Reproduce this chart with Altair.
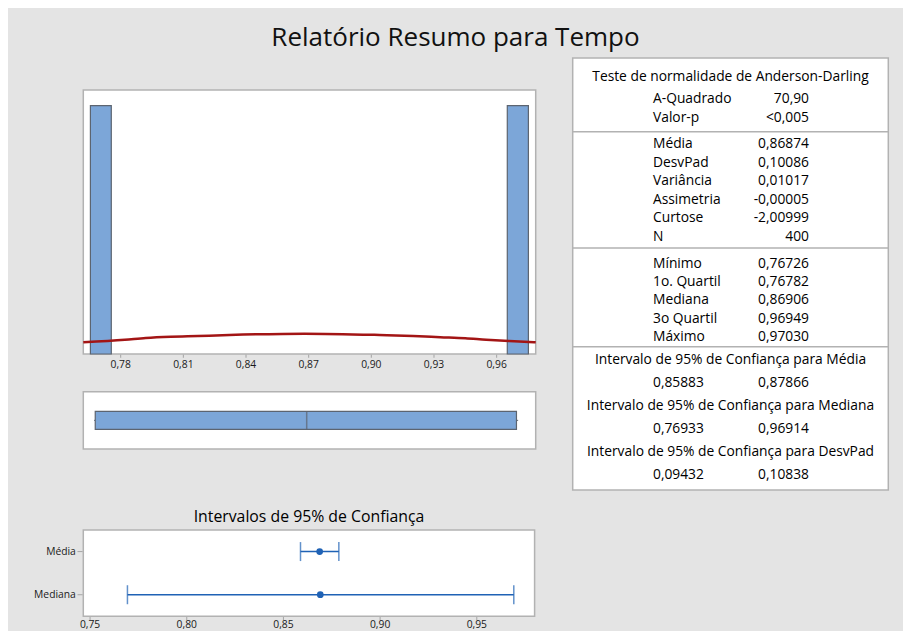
import json
import altair as alt
import pandas as pd

FONT = "Open Sans"

# ---------------- data ----------------
main_title = "Relatório Resumo para Tempo"

hist_bin_start = [0.7655, 0.9651]
hist_bin_end = [0.7755, 0.9752]
hist_counts = [200, 200]

curve_x = [0.7621, 0.782, 0.792, 0.804, 0.817, 0.832, 0.868, 0.904, 0.920, 0.933, 0.945, 0.955, 0.966, 0.9787]
curve_y = [9.4, 11.5, 12.9, 13.9, 14.5, 15.3, 16.4, 15.3, 14.5, 13.5, 12.6, 11.5, 10.5, 9.4]

hist_ticks = [0.78, 0.81, 0.84, 0.87, 0.90, 0.93, 0.96]

box_group = ["Tempo"]
box_min = [0.76726]
box_q1 = [0.76782]
box_median = [0.86906]
box_q3 = [0.96949]
box_max = [0.97030]

ci_names = ["Média", "Mediana"]
ci_est = [0.86874, 0.86906]
ci_low = [0.85883, 0.76933]
ci_high = [0.87866, 0.96914]
ci_ticks = [0.75, 0.80, 0.85, 0.90, 0.95]
ci_title = "Intervalos de 95% de Confiança"

ad_title = "Teste de normalidade de Anderson-Darling"
ad_labels = ["A-Quadrado", "Valor-p"]
ad_values = ["70,90", "<0,005"]
desc_labels = ["Média", "DesvPad", "Variância", "Assimetria", "Curtose", "N"]
desc_values = ["0,86874", "0,10086", "0,01017", "-0,00005", "-2,00999", "400"]
quart_labels = ["Mínimo", "1o. Quartil", "Mediana", "3o Quartil", "Máximo"]
quart_values = ["0,76726", "0,76782", "0,86906", "0,96949", "0,97030"]
int_titles = ["Intervalo de 95% de Confiança para Média",
              "Intervalo de 95% de Confiança  para Mediana",
              "Intervalo de 95% de Confiança  para DesvPad"]
int_low = ["0,85883", "0,76933", "0,09432"]
int_high = ["0,87866", "0,96914", "0,10838"]

# ---------------- layout ----------------
W, H = 895, 573
PAD_TOP = 50
HIST_DOM = [0.7621, 0.9787]
HIST_XR = [75.3, 527.7]
HIST_YMAX = 212.6
HIST_YR = [296, 32]
BOX_YR = [333.7, 391]
CI_DOM = [0.7465, 0.9799]
CI_XR = [75.3, 526.6]
CI_YDOM = [0.5, 2.5]
CI_YR = [472, 558.3]
TAB_XR = [564.7, 880.3]
TAB_H = 432

FRAME = "#b2b2b2"
BAR_FILL = "#7ca6d8"
BAR_STROKE = "#5c6470"
CURVE = "#a31515"
CI_COL = "#1f62b5"
TXT = "#000000"
AX_TXT = "#1a1a1a"
TICK = "#8a8a8a"
AX_FS = 10.3


def comma(v):
    return f"{v:.2f}".replace(".", ",")


# ---------------- histogram ----------------
hx = alt.Scale(domain=HIST_DOM, range=HIST_XR, nice=False, zero=False)
hy = alt.Scale(domain=[0, HIST_YMAX], range=HIST_YR, nice=False, zero=False)

hframe_df = pd.DataFrame({"x0": [HIST_DOM[0]], "x1": [HIST_DOM[1]], "y0": [0.0], "y1": [HIST_YMAX]})
hist_frame = alt.Chart(hframe_df).mark_rect(fill="white", stroke=FRAME, strokeWidth=1.5).encode(
    x=alt.X("x0:Q", scale=hx, axis=None), x2="x1",
    y=alt.Y("y0:Q", scale=hy, axis=None), y2="y1",
)

bars_df = pd.DataFrame({"b0": hist_bin_start, "b1": hist_bin_end, "c": hist_counts,
                        "z": [0] * len(hist_counts)})
hist_bars = alt.Chart(bars_df).mark_rect(fill=BAR_FILL, stroke=BAR_STROKE, strokeWidth=1.2).encode(
    x=alt.X("b0:Q", scale=hx, axis=None), x2="b1",
    y=alt.Y("z:Q", scale=hy, axis=None), y2="c",
)

curve_df = pd.DataFrame({"cx": curve_x, "cy": curve_y})
hist_curve = alt.Chart(curve_df).mark_line(color=CURVE, strokeWidth=2.5, interpolate="monotone").encode(
    x=alt.X("cx:Q", scale=hx, axis=None),
    y=alt.Y("cy:Q", scale=hy, axis=None),
)

htick_df = pd.DataFrame({"v": hist_ticks, "lab": [comma(v) for v in hist_ticks],
                         "z": [0.0] * len(hist_ticks)})
hist_tickmarks = alt.Chart(htick_df).mark_tick(orient="vertical", size=3, thickness=1, color=TICK,
                                               yOffset=2.2).encode(
    x=alt.X("v:Q", scale=hx, axis=None), y=alt.Y("z:Q", scale=hy, axis=None))
hist_ticklabels = alt.Chart(htick_df).mark_text(font=FONT, fontSize=AX_FS, color=AX_TXT, align="center",
                                                baseline="alphabetic", dy=14.3).encode(
    x=alt.X("v:Q", scale=hx, axis=None), y=alt.Y("z:Q", scale=hy, axis=None), text="lab:N")
hist_layer = alt.layer(hist_frame, hist_bars, hist_curve, hist_tickmarks, hist_ticklabels)

# ---------------- boxplot ----------------
by = alt.Scale(type="point", domain=box_group, range=BOX_YR, padding=0.5)
box_df = pd.DataFrame({"g": box_group, "mn": box_min, "q1": box_q1, "md": box_median,
                       "q3": box_q3, "mx": box_max,
                       "f0": [HIST_DOM[0]], "f1": [HIST_DOM[1]]})
box_frame = alt.Chart(box_df).mark_bar(size=BOX_YR[1] - BOX_YR[0], fill="white", stroke=FRAME,
                                       strokeWidth=1.5).encode(
    x=alt.X("f0:Q", scale=hx, axis=None), x2="f1", y=alt.Y("g:N", scale=by, axis=None))
box_w1 = alt.Chart(box_df).mark_rule(color=BAR_STROKE, strokeWidth=1).encode(
    x=alt.X("mn:Q", scale=hx, axis=None), x2="q1", y=alt.Y("g:N", scale=by, axis=None))
box_w2 = alt.Chart(box_df).mark_rule(color=BAR_STROKE, strokeWidth=1).encode(
    x=alt.X("q3:Q", scale=hx, axis=None), x2="mx", y=alt.Y("g:N", scale=by, axis=None))
box_box = alt.Chart(box_df).mark_bar(size=18, fill=BAR_FILL, stroke=BAR_STROKE, strokeWidth=1.2).encode(
    x=alt.X("q1:Q", scale=hx, axis=None), x2="q3", y=alt.Y("g:N", scale=by, axis=None))
box_med = alt.Chart(box_df).mark_tick(size=18, thickness=1.5, color=BAR_STROKE).encode(
    x=alt.X("md:Q", scale=hx, axis=None), y=alt.Y("g:N", scale=by, axis=None))
box_layer = alt.layer(box_frame, box_w1, box_w2, box_box, box_med)

# ---------------- confidence intervals ----------------
cx = alt.Scale(domain=CI_DOM, range=CI_XR, nice=False, zero=False)
cy = alt.Scale(domain=CI_YDOM, range=CI_YR, nice=False, zero=False)
ci_df = pd.DataFrame({"name": ci_names, "row": list(range(1, len(ci_names) + 1)),
                      "est": ci_est, "lo": ci_low, "hi": ci_high,
                      "xl": [CI_DOM[0]] * len(ci_names)})

cframe_df = pd.DataFrame({"x0": [CI_DOM[0]], "x1": [CI_DOM[1]], "y0": [CI_YDOM[0]], "y1": [CI_YDOM[1]]})
ci_frame = alt.Chart(cframe_df).mark_rect(fill="white", stroke=FRAME, strokeWidth=1.5).encode(
    x=alt.X("x0:Q", scale=cx, axis=None), x2="x1",
    y=alt.Y("y0:Q", scale=cy, axis=None), y2="y1",
)
ci_rule = alt.Chart(ci_df).mark_rule(color=CI_COL, strokeWidth=1.5).encode(
    x=alt.X("lo:Q", scale=cx, axis=None), x2="hi", y=alt.Y("row:Q", scale=cy, axis=None))
ci_cap_lo = alt.Chart(ci_df).mark_tick(orient="vertical", size=19, thickness=1.5, color=CI_COL).encode(
    x=alt.X("lo:Q", scale=cx, axis=None), y=alt.Y("row:Q", scale=cy, axis=None))
ci_cap_hi = alt.Chart(ci_df).mark_tick(orient="vertical", size=19, thickness=1.5, color=CI_COL).encode(
    x=alt.X("hi:Q", scale=cx, axis=None), y=alt.Y("row:Q", scale=cy, axis=None))
ci_pt = alt.Chart(ci_df).mark_circle(size=45, color=CI_COL, opacity=1).encode(
    x=alt.X("est:Q", scale=cx, axis=None), y=alt.Y("row:Q", scale=cy, axis=None))

# y "axis": category names and ticks to the left of the frame
ci_ylab = alt.Chart(ci_df).mark_text(font=FONT, fontSize=AX_FS, color=AX_TXT, align="right",
                                     baseline="middle", dx=-7.5).encode(
    x=alt.X("xl:Q", scale=cx, axis=None), y=alt.Y("row:Q", scale=cy, axis=None), text="name:N")
ci_ytick = alt.Chart(ci_df).mark_tick(orient="horizontal", size=5, thickness=1, color=TICK,
                                      xOffset=-3.3).encode(
    x=alt.X("xl:Q", scale=cx, axis=None), y=alt.Y("row:Q", scale=cy, axis=None))

# x "axis"
ctick_df = pd.DataFrame({"v": ci_ticks, "lab": [comma(v) for v in ci_ticks],
                         "yb": [CI_YDOM[1]] * len(ci_ticks)})
ci_xtick = alt.Chart(ctick_df).mark_tick(orient="vertical", size=3, thickness=1, color=TICK,
                                         yOffset=2.2).encode(
    x=alt.X("v:Q", scale=cx, axis=None), y=alt.Y("yb:Q", scale=cy, axis=None))
ci_xlab = alt.Chart(ctick_df).mark_text(font=FONT, fontSize=AX_FS, color=AX_TXT, align="center",
                                        baseline="alphabetic", dy=11.8).encode(
    x=alt.X("v:Q", scale=cx, axis=None), y=alt.Y("yb:Q", scale=cy, axis=None), text="lab:N")

ci_t_df = pd.DataFrame({"t": [ci_title], "tx": [(CI_DOM[0] + CI_DOM[1]) / 2], "ty": [CI_YDOM[0]]})
ci_ttl = alt.Chart(ci_t_df).mark_text(font=FONT, fontSize=15.8, color=TXT, baseline="middle",
                                      align="center", dy=-13.5).encode(
    x=alt.X("tx:Q", scale=cx, axis=None), y=alt.Y("ty:Q", scale=cy, axis=None), text="t:N")
ci_layer = alt.layer(ci_frame, ci_rule, ci_cap_lo, ci_cap_hi, ci_pt, ci_ylab, ci_ytick,
                     ci_xtick, ci_xlab, ci_ttl)

# ---------------- statistics table ----------------
LBL_X, VAL_X, MID_X = 0.2544, 0.7487, 0.5
ROW = 18.5
rows_left, rows_right, rows_center = [], [], []
rows_center.append((ad_title, 18.7))
for i, (l, v) in enumerate(zip(ad_labels, ad_values)):
    rows_left.append((l, 41 + i * ROW))
    rows_right.append((v, 41 + i * ROW))
for i, (l, v) in enumerate(zip(desc_labels, desc_values)):
    rows_left.append((l, 86 + i * ROW))
    rows_right.append((v, 86 + i * ROW))
for i, (l, v) in enumerate(zip(quart_labels, quart_values)):
    rows_left.append((l, 206 + i * 18.2))
    rows_right.append((v, 206 + i * 18.2))
for i, (t, lo, hi) in enumerate(zip(int_titles, int_low, int_high)):
    ty = 302 + i * 45.8
    rows_center.append((t, ty))
    rows_left.append((lo, ty + 23))
    rows_right.append((hi, ty + 23))
separators = [73.7, 190.0, 288.7]

tx = alt.Scale(domain=[0, 1], range=TAB_XR, nice=False, zero=False)
ty_s = alt.Scale(domain=[0, TAB_H], range=[0, TAB_H], nice=False, zero=False)

tframe_df = pd.DataFrame({"x0": [0], "x1": [1], "y0": [0], "y1": [TAB_H]})
tab_frame = alt.Chart(tframe_df).mark_rect(fill="white", stroke=FRAME, strokeWidth=1.5).encode(
    x=alt.X("x0:Q", scale=tx, axis=None), x2="x1", y=alt.Y("y0:Q", scale=ty_s, axis=None), y2="y1")
sep_df = pd.DataFrame({"x0": [0] * len(separators), "x1": [1] * len(separators), "y": separators})
tab_sep = alt.Chart(sep_df).mark_rule(color=FRAME, strokeWidth=1.5).encode(
    x=alt.X("x0:Q", scale=tx, axis=None), x2="x1", y=alt.Y("y:Q", scale=ty_s, axis=None))


def text_layer(rows, xpos, align):
    df = pd.DataFrame({"t": [r[0] for r in rows], "y": [r[1] for r in rows], "x": [xpos] * len(rows)})
    return alt.Chart(df).mark_text(font=FONT, fontSize=13.8, color=TXT, align=align, baseline="middle").encode(
        x=alt.X("x:Q", scale=tx, axis=None), y=alt.Y("y:Q", scale=ty_s, axis=None), text="t:N")


tab_layer = alt.layer(tab_frame, tab_sep,
                      text_layer(rows_left, LBL_X, "left"),
                      text_layer(rows_right, VAL_X, "right"),
                      text_layer(rows_center, MID_X, "center"))

# ---------------- compose ----------------
chart = alt.layer(hist_layer, box_layer, ci_layer, tab_layer).resolve_scale(
    x="independent", y="independent"
).properties(
    width=W, height=H,
    padding={"left": 0, "top": PAD_TOP, "right": 0, "bottom": 0},
    autosize=alt.AutoSizeParams(type="none"),
    background="#e4e4e4",
    title=alt.TitleParams(main_title, font=FONT, fontSize=26, fontWeight="normal", color="#111111",
                          anchor="middle", baseline="alphabetic", offset=11, dy=26),
).configure_view(stroke=None)

chart.save("out.html", embed_options={"renderer": "svg", "actions": False})
